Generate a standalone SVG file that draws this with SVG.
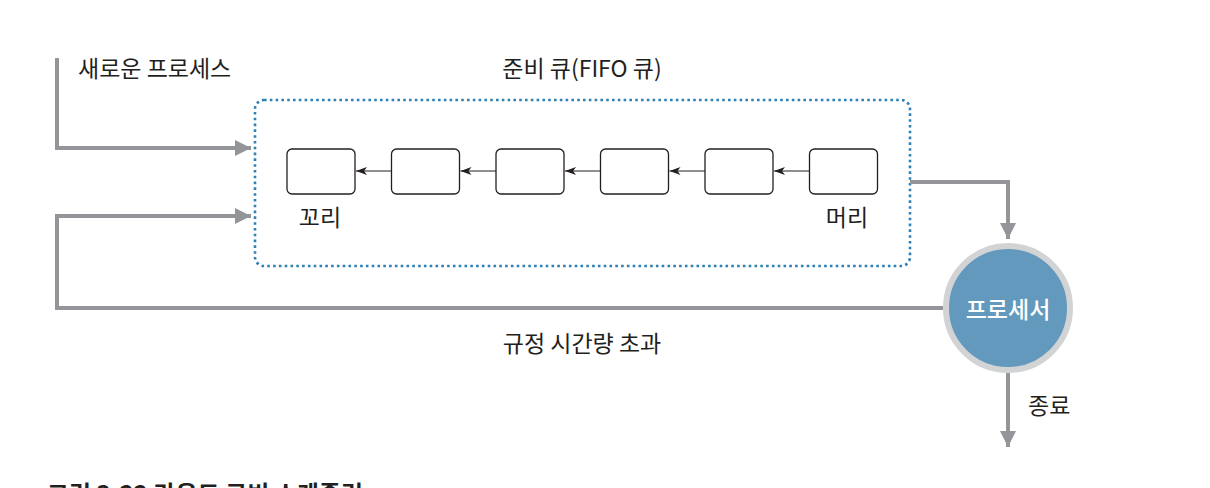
<svg xmlns="http://www.w3.org/2000/svg" width="1210" height="488" viewBox="0 0 1210 488">
<defs>
<style>
.t{font-family:"Noto Sans CJK KR","Noto Sans",sans-serif;fill:#231f20;font-size:23px;}
.flow{fill:none;stroke:#939598;stroke-width:4;}
.box{fill:#fff;stroke:#231f20;stroke-width:1.3;}
.link{stroke:#231f20;stroke-width:1;fill:none;}
</style>
<marker id="big" markerUnits="userSpaceOnUse" markerWidth="18" markerHeight="18" refX="16" refY="9" orient="auto">
<path d="M0,1 L16,9 L0,17 Z" fill="#939598"/>
</marker>
<marker id="small" markerUnits="userSpaceOnUse" markerWidth="12" markerHeight="10" refX="11" refY="5" orient="auto">
<path d="M0,1 L11,5 L0,9 L3,5 Z" fill="#231f20"/>
</marker>
</defs>
<rect width="1210" height="488" fill="#fff"/>

<g id="queue">
<rect x="255" y="100" width="655" height="166" rx="9" fill="none" stroke="#2f80b4" stroke-width="2.6" stroke-dasharray="2.6 3.2"/>
<text class="t" x="582" y="77" text-anchor="middle">준비 큐(FIFO 큐)</text>
</g>

<g id="connectors">
<path class="flow" d="M57,58 V148 H251" marker-end="url(#big)"/>
<path class="flow" d="M943,308 H57 V216 H251" marker-end="url(#big)"/>
<path class="flow" d="M910,182 H1008 V239" marker-end="url(#big)"/>
<path class="flow" d="M1008,373 V447" marker-end="url(#big)"/>
<path class="link" d="M391.5,171 H356" marker-end="url(#small)"/>
<path class="link" d="M496,171 H460.5" marker-end="url(#small)"/>
<path class="link" d="M600.5,171 H565" marker-end="url(#small)"/>
<path class="link" d="M705,171 H669.5" marker-end="url(#small)"/>
<path class="link" d="M809.5,171 H774" marker-end="url(#small)"/>
</g>

<g id="node1"><rect class="box" x="287" y="149" width="68" height="45" rx="5"/></g>
<g id="node2"><rect class="box" x="391.5" y="149" width="68" height="45" rx="5"/></g>
<g id="node3"><rect class="box" x="496" y="149" width="68" height="45" rx="5"/></g>
<g id="node4"><rect class="box" x="600.5" y="149" width="68" height="45" rx="5"/></g>
<g id="node5"><rect class="box" x="705" y="149" width="68" height="45" rx="5"/></g>
<g id="node6"><rect class="box" x="809.5" y="149" width="68" height="45" rx="5"/></g>

<g id="labels">
<text class="t" x="78" y="77">새로운 프로세스</text>
<text class="t" x="320" y="226" text-anchor="middle">꼬리</text>
<text class="t" x="847" y="226" text-anchor="middle">머리</text>
<text class="t" x="582" y="352" text-anchor="middle">규정 시간량 초과</text>
<text class="t" x="1028" y="414">종료</text>
</g>

<g id="processor">
<circle cx="1008" cy="308" r="62" fill="#6399bd" stroke="#d1d3d4" stroke-width="6"/>
<text x="1008" y="318" font-size="23" text-anchor="middle" fill="#fff" style="font-family:'Noto Sans CJK KR','Noto Sans',sans-serif;font-weight:500">프로세서</text>
</g>

<g id="caption">
<text class="t" x="47" y="503" style="font-size:24px;font-weight:bold">그림 3-22 라운드 로빈 스케줄링</text>
</g>
</svg>
